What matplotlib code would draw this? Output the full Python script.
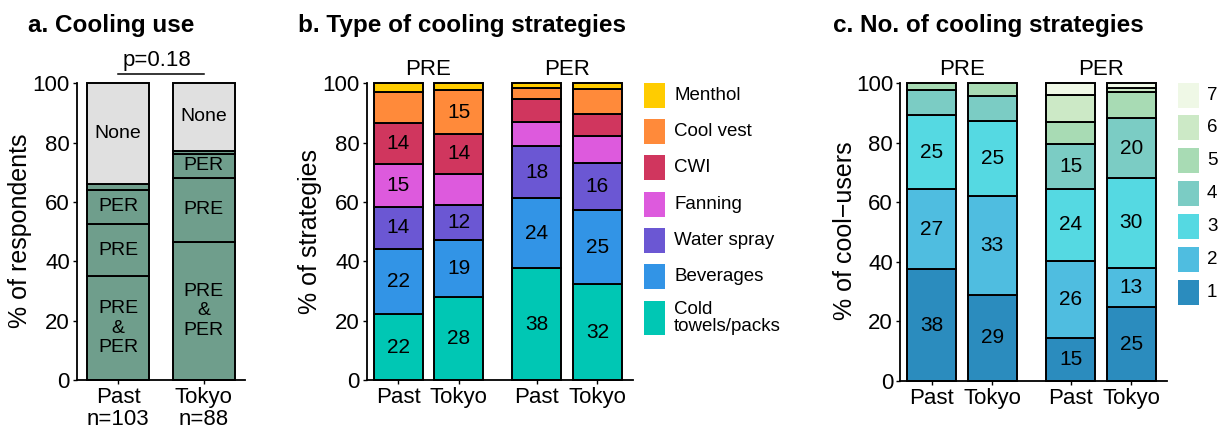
import matplotlib
matplotlib.use("Agg")
import matplotlib.pyplot as plt
from matplotlib.patches import Rectangle

plt.rcParams['font.family'] = ['Liberation Sans', 'DejaVu Sans']

# ---------------- data ----------------
# a. Cooling use (% of respondents), stacked bottom to top
use_groups = ["Past\nn=103", "Tokyo\nn=88"]
use_segments = ["PRE\n&\nPER", "PRE", "PER", "", "None"]
use_past = [35.0, 17.5, 11.7, 1.9, 34.0]
use_tokyo = [46.6, 21.6, 8.0, 1.1, 22.7]
p_value_text = "p=0.18"

# b. Type of cooling strategies (% of strategies), stacked bottom to top
strategy_names = ["Cold\ntowels/packs", "Beverages", "Water spray", "Fanning",
                  "CWI", "Cool vest", "Menthol"]
strat_pre_past = [22.1, 22.2, 14.0, 14.6, 13.6, 10.4, 3.1]
strat_pre_tokyo = [28.0, 19.3, 11.6, 10.5, 13.6, 14.6, 2.4]
strat_per_past = [37.6, 23.6, 17.8, 7.8, 7.9, 3.8, 1.5]
strat_per_tokyo = [32.3, 24.9, 15.8, 9.2, 7.4, 8.4, 2.0]

# c. Number of cooling strategies (% of cool-users), stacked bottom to top
count_names = ["1", "2", "3", "4", "5", "6", "7"]
count_pre_past = [37.6, 26.8, 24.9, 8.4, 2.3, 0.0, 0.0]
count_pre_tokyo = [29.0, 33.1, 25.2, 8.3, 4.4, 0.0, 0.0]
count_per_past = [14.6, 25.8, 24.1, 15.0, 7.4, 9.2, 3.9]
count_per_tokyo = [24.8, 13.3, 30.0, 20.1, 8.8, 1.5, 1.5]

bar_labels = ["Past", "Tokyo", "Past", "Tokyo"]
phase_labels = ["PRE", "PER"]

# ---------------- styling ----------------
use_colors = ["#6f9e8c", "#6f9e8c", "#6f9e8c", "#6f9e8c", "#e0e0e0"]
strategy_colors = ["#00c7b4", "#3294e6", "#6b57d3", "#dd5add",
                   "#d0365e", "#ff8a3a", "#ffcc00"]
count_colors = ["#2b8cbe", "#4fbde0", "#55d9e2", "#7bccc4",
                "#a8dbb4", "#cce9c6", "#eff8e6"]

W, H = 1222, 430
fig = plt.figure(figsize=(W / 100, H / 100), dpi=100)

EDGE_LW = 1.4
TICK_FS = 16
YLAB_FS = 18
TITLE_FS = 17.5
BAR_FS = 15
LEG_FS = 13.5


def px_axes(left, right, top, bottom):
    return fig.add_axes([left / W, (H - bottom) / H, (right - left) / W,
                         (bottom - top) / H])


def fx(x):
    return x / W


def fy(y):
    return (H - y) / H


def style_axes(ax, xlim):
    ax.set_ylim(0, 100)
    ax.set_xlim(*xlim)
    for s in ["top", "right"]:
        ax.spines[s].set_visible(False)
    for s in ["left", "bottom"]:
        ax.spines[s].set_linewidth(1.3)
    ax.set_yticks([0, 20, 40, 60, 80, 100])
    ax.tick_params(axis="both", labelsize=TICK_FS, length=3, width=1.0,
                   pad=2, colors="black")
    ax.patch.set_alpha(0)


def stacked(ax, x, values, colors, width, labels=None, threshold=11):
    bottom = 0.0
    for i, v in enumerate(values):
        if v <= 0:
            continue
        ax.bar(x, v, width=width, bottom=bottom, color=colors[i],
               edgecolor="black", linewidth=EDGE_LW, clip_on=False, zorder=2)
        if labels is None:
            if v >= threshold:
                ax.text(x, bottom + v / 2, f"{round(v):d}", ha="center",
                        va="center", fontsize=BAR_FS, zorder=3)
        elif labels[i]:
            ax.text(x, bottom + v / 2, labels[i], ha="center", va="center",
                    fontsize=BAR_FS - 1, zorder=3, linespacing=1.2)
        bottom += v


# ---------------- panel a ----------------
ax_a = px_axes(76.7, 245, 83.3, 380)
style_axes(ax_a, (-0.483, 1.485))
use_x = [0, 1]
stacked(ax_a, use_x[0], use_past, use_colors, 0.725, labels=use_segments)
stacked(ax_a, use_x[1], use_tokyo, use_colors, 0.725, labels=use_segments)
ax_a.set_xticks(use_x)
ax_a.set_xticklabels(use_groups, linespacing=1.05)
ax_a.plot([use_x[0], use_x[1]], [103.0, 103.0], color="black", lw=1.1,
          clip_on=False)
ax_a.text(0.45, 104.2, p_value_text, ha="center", va="bottom",
          fontsize=16)
fig.text(fx(20), fy(231), "% of respondents", rotation=90, ha="center",
         va="center", fontsize=YLAB_FS)
fig.text(fx(28), fy(32), "a. Cooling use", fontsize=TITLE_FS,
         fontweight="bold", va="baseline")

# ---------------- panel b / c shared layout ----------------
grp_x = [0, 1, 2.29, 3.29]
BAR_W = 0.81


def grouped_panel(ax, series, colors):
    style_axes(ax, (-0.522, 3.874))
    for x, vals in zip(grp_x, series):
        stacked(ax, x, vals, colors, BAR_W)
    ax.set_xticks(grp_x)
    ax.set_xticklabels(bar_labels)
    for k, name in enumerate(phase_labels):
        cx = (grp_x[2 * k] + grp_x[2 * k + 1]) / 2
        ax.text(cx, 102.8, name, ha="center", va="baseline", fontsize=16,
                clip_on=False)


def legend_column(x_left, tops, heights, names, colors, text_x):
    for top, h, name, c in zip(tops, heights, names, colors):
        fig.add_artist(Rectangle((fx(x_left), fy(top + h)), 21 / W, h / H,
                                 transform=fig.transFigure, facecolor=c,
                                 edgecolor="none"))
        fig.text(fx(text_x), fy(top + h / 2), name, ha="left", va="center",
                 fontsize=LEG_FS, linespacing=1.0)


# ---------------- panel b ----------------
ax_b = px_axes(366.7, 632.7, 83.3, 380)
grouped_panel(ax_b, [strat_pre_past, strat_pre_tokyo, strat_per_past,
                     strat_per_tokyo], strategy_colors)
fig.text(fx(310), fy(231), "% of strategies", rotation=90, ha="center",
         va="center", fontsize=YLAB_FS)
fig.text(fx(298), fy(32), "b. Type of cooling strategies",
         fontsize=TITLE_FS, fontweight="bold", va="baseline")
b_tops = [83.3, 119.3, 155, 192, 228, 264, 301]
b_heights = [24.5, 24.5, 24.5, 24.5, 24.5, 24.5, 34]
legend_column(644, b_tops, b_heights, strategy_names[::-1],
              strategy_colors[::-1], 674)

# ---------------- panel c ----------------
ax_c = px_axes(900, 1166.7, 83.3, 381)
grouped_panel(ax_c, [count_pre_past, count_pre_tokyo, count_per_past,
                     count_per_tokyo], count_colors)
fig.text(fx(845), fy(231), "% of cool\u2212users", rotation=90, ha="center",
         va="center", fontsize=YLAB_FS)
fig.text(fx(833), fy(32), "c. No. of cooling strategies",
         fontsize=TITLE_FS, fontweight="bold", va="baseline")
c_tops = [83.3, 115, 148.3, 181, 214.3, 247.3, 280]
legend_column(1178, c_tops, [24.5] * 7, count_names[::-1],
              count_colors[::-1], 1207)

fig.savefig("out.png", dpi=100)
